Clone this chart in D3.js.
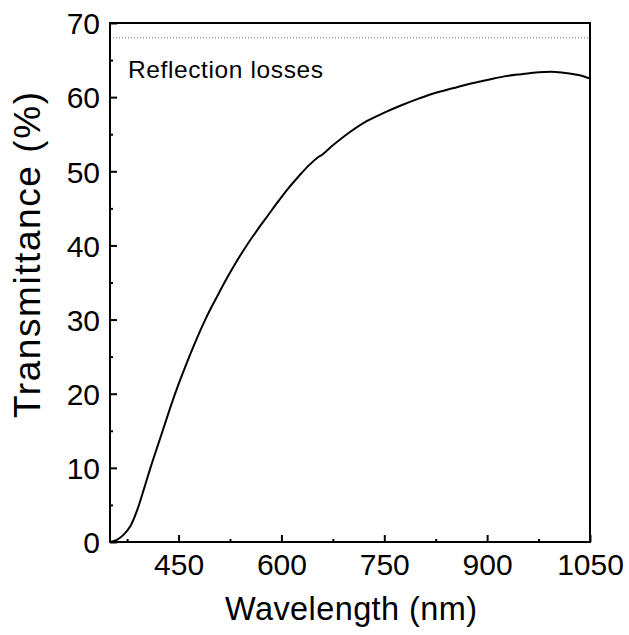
<!DOCTYPE html>
<html>
<head>
<meta charset="utf-8">
<script src="https://cdn.jsdelivr.net/npm/d3@7"></script>
<style>
  body { margin: 0; background: #fff; }
  svg { display: block; font-family: "Liberation Sans", Arial, sans-serif; }
</style>
</head>
<body>
<svg width="629" height="635"></svg>
<script>
// transmittance spectrum
var wavelength = [350, 360, 370, 380, 390, 400, 410, 420, 430, 440, 450, 460, 475, 490, 505, 520, 535, 550, 565, 580, 595, 610, 625, 640, 655, 659, 675, 700, 725, 750, 775, 800, 825, 850, 875, 900, 925, 950, 975, 1000, 1020, 1035, 1050];
var transmittance = [0, 0.3, 1.0, 2.2, 4.4, 7.3, 10.3, 13.1, 15.9, 18.7, 21.3, 23.7, 27.1, 30.2, 32.9, 35.5, 37.9, 40.1, 42.1, 44.0, 45.9, 47.7, 49.3, 50.8, 52.0, 52.2, 53.5, 55.3, 56.8, 57.9, 58.9, 59.8, 60.6, 61.2, 61.8, 62.3, 62.8, 63.1, 63.35, 63.4, 63.2, 62.95, 62.5];
var reflectionLimit = 68;
var xTicks = [450, 600, 750, 900, 1050];
var xMinor = [375, 525, 675, 825, 975];
var yTicks = [0, 10, 20, 30, 40, 50, 60, 70];
var yMinor = [5, 15, 25, 35, 45, 55, 65];

var svg = d3.select("svg");
var margin = {top: 23, right: 39, bottom: 93, left: 110};
var width = +svg.attr("width") - margin.left - margin.right,
    height = +svg.attr("height") - margin.top - margin.bottom;

var g = svg.append("g").attr("transform", "translate(" + margin.left + "," + margin.top + ")");

var x = d3.scaleLinear().domain([350, 1050]).range([0, width]);
var y = d3.scaleLinear().domain([0, 70]).range([height, 0]);

var data = wavelength.map(function(w, i) { return {w: w, t: transmittance[i]}; });

// reflection losses line
g.append("line")
  .attr("x1", 0).attr("x2", width)
  .attr("y1", y(reflectionLimit)).attr("y2", y(reflectionLimit))
  .attr("stroke", "#707070")
  .attr("stroke-width", 1)
  .attr("stroke-dasharray", "1,2");

g.append("text")
  .attr("x", 18)
  .attr("y", 55)
  .attr("font-size", 24.5)
  .attr("textLength", 195)
  .attr("lengthAdjust", "spacing")
  .text("Reflection losses");

// curve
var line = d3.line()
  .x(function(d) { return x(d.w); })
  .y(function(d) { return y(d.t); })
  .curve(d3.curveCatmullRom.alpha(0.5));

g.append("path")
  .datum(data)
  .attr("fill", "none")
  .attr("stroke", "#000")
  .attr("stroke-width", 2)
  .attr("stroke-linejoin", "round")
  .attr("d", line);

// axes (ticks inward)
var xAxis = g.append("g")
  .attr("transform", "translate(0," + height + ")")
  .call(d3.axisBottom(x).tickValues(xTicks).tickSize(-7).tickPadding(12).tickFormat(d3.format("d")));
var xMin = g.append("g")
  .attr("transform", "translate(0," + height + ")")
  .call(d3.axisBottom(x).tickValues(xMinor).tickSize(-3).tickFormat(""));

var yAxis = g.append("g")
  .call(d3.axisLeft(y).tickValues(yTicks).tickSize(-7).tickPadding(10));
var yMin = g.append("g")
  .call(d3.axisLeft(y).tickValues(yMinor).tickSize(-3).tickFormat(""));

[xAxis, xMin, yAxis, yMin].forEach(function(a) {
  a.select(".domain").remove();
  a.selectAll("line").attr("stroke", "#000").attr("stroke-width", 2);
  a.selectAll("text").attr("font-size", 30).attr("fill", "#000").attr("font-family", null);
});
yAxis.selectAll("text").attr("dy", "0.36em");

// frame
g.append("rect")
  .attr("width", width).attr("height", height)
  .attr("fill", "none")
  .attr("stroke", "#000")
  .attr("stroke-width", 2);

// axis titles
svg.append("text")
  .attr("x", 351)
  .attr("y", 620)
  .attr("text-anchor", "middle")
  .attr("font-size", 32.5)
  .attr("textLength", 252)
  .attr("lengthAdjust", "spacing")
  .text("Wavelength (nm)");

svg.append("text")
  .attr("transform", "translate(40,255) rotate(-90)")
  .attr("text-anchor", "middle")
  .attr("font-size", 37)
  .attr("textLength", 326)
  .attr("lengthAdjust", "spacing")
  .text("Transmittance (%)");
</script>
</body>
</html>
